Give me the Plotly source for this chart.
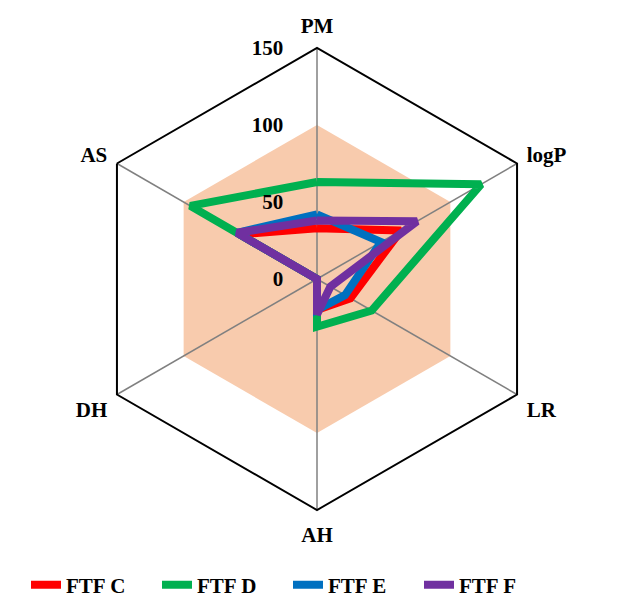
import plotly.graph_objects as go

categories = ["PM", "logP", "LR", "AH", "DH", "AS"]
ftf_c = [33, 63, 25, 20, 0, 58]
ftf_d = [63, 123, 41, 31, 0, 95]
ftf_e = [42, 48, 21, 20, 0, 60]
ftf_f = [38, 75, 10, 23, 0, 60]
band = [100, 100, 100, 100, 100, 100]
tick_vals = [0, 50, 100, 150]
r_max = 150

series = [("FTF C", ftf_c, "#FF0000"), ("FTF D", ftf_d, "#00B050"),
          ("FTF E", ftf_e, "#0070C0"), ("FTF F", ftf_f, "#7030A0")]

def close(v):
    return list(v) + [v[0]]

FAM = "Liberation Serif, Times New Roman, serif"
fig = go.Figure()
fig.add_trace(go.Scatterpolar(r=close(band), theta=close(categories), fill="toself",
                              fillcolor="#F8CBAD", line=dict(width=0, color="#F8CBAD"),
                              mode="lines", showlegend=False, hoverinfo="skip"))
# spokes drawn over the band
sr, st = [], []
for c in categories:
    sr += [0, r_max, None]
    st += [c, c, None]
fig.add_trace(go.Scatterpolar(r=sr, theta=st, mode="lines", line=dict(color="#808080", width=1.5),
                              showlegend=False, hoverinfo="skip", connectgaps=False))
for name, vals, col in series:
    fig.add_trace(go.Scatterpolar(r=close(vals), theta=close(categories), mode="lines",
                                  name=name, line=dict(color=col, width=8)))

W, H = 633, 602
ML, MR, MT, MB = 10, 10, 40, 100
gw = W - ML - MR
tf = dict(family=FAM, size=21, color="black", weight="bold")
fig.update_layout(
    width=W, height=H,
    margin=dict(l=ML, r=MR, t=MT, b=MB),
    paper_bgcolor="white",
    font=dict(family=FAM, color="black"),
    polar=dict(
        bgcolor="rgba(0,0,0,0)",
        gridshape="linear",
        domain=dict(x=[(78 - ML) / gw, (540 - ML) / gw], y=[0, 1]),
        radialaxis=dict(range=[0, r_max], tickvals=tick_vals, showgrid=False, showline=False,
                        ticks="outside", ticklen=26, tickcolor="rgba(0,0,0,0)",
                        angle=90, tickangle=90, side="counterclockwise", tickfont=tf),
        angularaxis=dict(direction="clockwise", rotation=90, showline=True, linecolor="black",
                         linewidth=2, showgrid=False, ticks="outside", ticklen=6,
                         tickcolor="rgba(0,0,0,0)", tickfont=tf),
    ),
    legend=dict(orientation="h", xref="paper", yref="container", x=(18 - ML) / gw, xanchor="left",
                y=25 / H, yanchor="middle",
                entrywidth=86, entrywidthmode="pixels", font=tf),
)
fig.write_html("out.html")
